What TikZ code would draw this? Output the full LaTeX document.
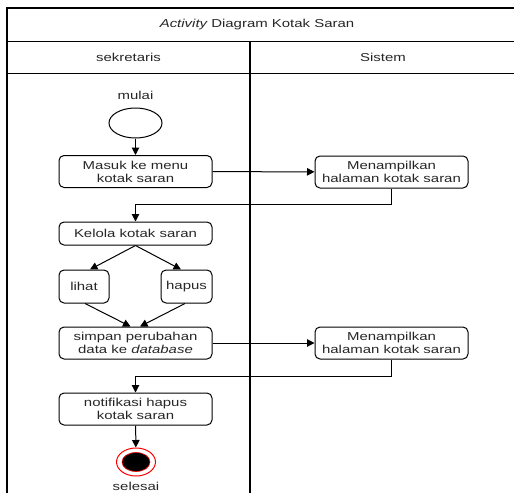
\documentclass[tikz,border=0pt]{standalone}
\usepackage{fontspec}
\setmainfont[FakeStretch=1.3]{Liberation Sans}
\usetikzlibrary{shapes.geometric,arrows.meta}
\begin{document}
\begin{tikzpicture}[x=1pt,y=-1pt,
  every node/.style={font=\fontsize{11.5}{13}\selectfont, text=black!85},
  act/.style={draw=black, rounded corners=5pt, line width=1pt, align=center,
    inner sep=0pt, minimum width=153pt, minimum height=32pt},
  flow/.style={-{Triangle[length=7.5pt,width=7.5pt]}, line width=1pt},
  lane/.style={line width=1.5pt}]
\useasboundingbox (0,0) rectangle (514,493);
\clip (0,0) rectangle (514,493);

% swimlane frame
\draw[lane] (7,493) -- (7,8) -- (514,8);
\draw[lane] (7,41.5) -- (514,41.5);
\draw[lane] (7,73.5) -- (514,73.5);
\draw[lane] (250,41.5) -- (250,493);
\node (title) at (257,24.5) {\itshape Activity\upshape{} Diagram Kotak Saran};
\node (lane1) at (128.5,57.5) {sekretaris};
\node (lane2) at (383,57.5) {Sistem};

% sekretaris lane
\node (mulai) at (135.5,95) {mulai};
\node[draw=black, ellipse, line width=1pt, minimum width=53pt, minimum height=30pt] (start) at (135.5,123) {};
\node[act] (masuk) at (135.5,171.5) {Masuk ke menu\\kotak saran};
\node[act, minimum height=23pt] (kelola) at (135.5,233.5) {Kelola kotak saran};
\node[act, minimum width=50pt, minimum height=33pt] (lihat) at (84,286.5) {lihat};
\node[act, minimum width=51pt, minimum height=33pt] (hapus) at (186.5,286.5) {hapus};
\node[act] (simpan) at (135.5,343) {simpan perubahan\\data ke \textit{database}};
\node[act] (notif) at (135.5,409) {notifikasi hapus\\kotak saran};
\node[draw=red, ellipse, line width=1pt, minimum width=39pt, minimum height=28pt] (stop) at (136,462) {};
\node[draw=red, fill=black, ellipse, line width=0.6pt, minimum width=28pt, minimum height=19pt] (stopin) at (stop) {};
\node (selesai) at (136,486.5) {selesai};

% sistem lane
\node[act] (tampil1) at (391.5,172) {Menampilkan\\halaman kotak saran};
\node[act] (tampil2) at (391.5,343) {Menampilkan\\halaman kotak saran};

% flow
\draw[flow] (start) -- (masuk);
\draw[flow] (masuk) -- (tampil1);
\draw[flow] (tampil1.south) -- ++(0,16) -| (kelola.north);
\draw[flow] (kelola.south) -- ([xshift=6pt]lihat.north);
\draw[flow] (kelola.south) -- ([xshift=-5.5pt]hapus.north);
\draw[flow] ([xshift=1pt]lihat.south) -- ([xshift=-5pt]simpan.north);
\draw[flow] ([xshift=-1.5pt]hapus.south) -- ([xshift=4.5pt]simpan.north);
\draw[flow] (simpan) -- (tampil2);
\draw[flow] (tampil2.south) -- ++(0,17) -| (notif.north);
\draw[flow] (notif) -- (stop);
\end{tikzpicture}
\end{document}
